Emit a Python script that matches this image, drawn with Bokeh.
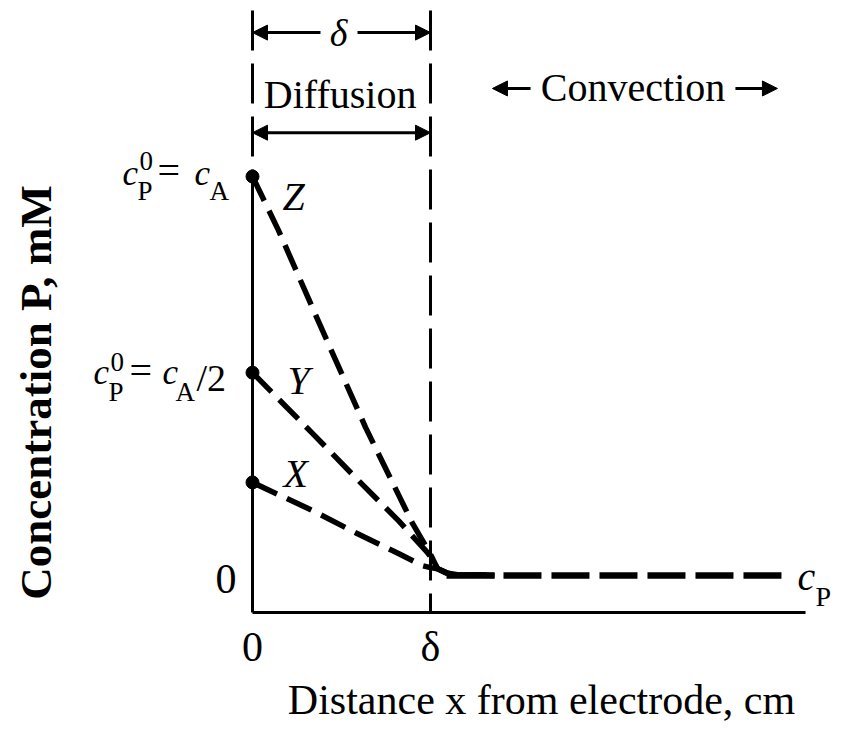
import math
from bokeh.plotting import figure
from bokeh.models import Label, Arrow, NormalHead, FixedTicker, Range1d, LinearAxis
from bokeh.embed import file_html
from bokeh.resources import INLINE

# ---------------- data (x in units of delta, c in units of c_A) ----------------
z_x = [0.0, 0.146, 0.393, 0.635, 0.899, 1.0]
z_c = [1.0, 0.866, 0.617, 0.376, 0.137, 0.06]
y_x = [0.0, 0.337, 0.579, 0.82, 0.972, 1.0]
y_c = [0.512, 0.361, 0.251, 0.144, 0.07, 0.055]
x_x = [0.0, 0.337, 0.579, 0.82, 0.955, 1.0]
x_c = [0.239, 0.169, 0.114, 0.062, 0.032, 0.027]
tail_x = [1.04, 1.09, 1.16, 1.36]          # merging into bulk
tail_c = [0.024, 0.014, 0.009, 0.0075]
bulk_c = 0.0075                            # bulk concentration c_P
bulk_x = [1.41, 2.983]
series_names = ["Z", "Y", "X"]
delta = 1.0
x_ticks = [0, 1]
x_tick_labels = ["0", "δ"]
y_ticks = [0]
y_tick_labels = ["0"]

FONT = "Liberation Serif"
X0, X1 = -1.41573, 3.32584
Y0, Y1 = -0.39552, 1.43781
AX_C = -0.0846          # level of the x axis
AX_XEND = 3.107         # end of the x axis

p = figure(width=844, height=737, output_backend="svg", toolbar_location=None,
           title=None, x_range=Range1d(X0, X1), y_range=Range1d(Y0, Y1),
           x_axis_location=None, y_axis_location=None,
           min_border=0, background_fill_color="white", border_fill_color="white")
p.outline_line_color = None
p.grid.visible = False

# axes (fixed inside the frame)
xa = LinearAxis(fixed_location=AX_C, ticker=FixedTicker(ticks=x_ticks),
                major_label_overrides={t: l for t, l in zip(x_ticks, x_tick_labels)},
                bounds=(0, AX_XEND), axis_line_width=3, axis_line_color="black",
                major_tick_line_color=None, minor_tick_line_color=None,
                major_label_text_font=FONT, major_label_text_font_size="42px",
                major_label_text_color="black", major_label_standoff=5)
p.add_layout(xa, "below")
ya = LinearAxis(fixed_location=0, ticker=FixedTicker(ticks=y_ticks),
                major_label_overrides={t: l for t, l in zip(y_ticks, y_tick_labels)},
                bounds=(AX_C, z_c[0]), axis_line_width=3, axis_line_color="black",
                major_tick_line_color=None, minor_tick_line_color=None,
                major_label_text_font=FONT, major_label_text_font_size="42px",
                major_label_text_color="black", major_label_standoff=10)
p.add_layout(ya, "left")

# boundary-layer dashed verticals
p.line([0, 0], [1.413, z_c[0]], line_color="black", line_width=3, line_dash="40 13")
p.line([delta, delta], [1.413, AX_C], line_color="black", line_width=3, line_dash="40 13")

# concentration profiles
for xs, cs in ((z_x, z_c), (y_x, y_c), (x_x, x_c)):
    p.line(xs + tail_x, cs + tail_c, line_color="black", line_width=5.5, line_dash="27 11")
p.line([tail_x[1], tail_x[-1]], [bulk_c, bulk_c], line_color="black", line_width=6.5)
p.line(bulk_x, [bulk_c, bulk_c], line_color="black", line_width=6.5, line_dash="38 10")

# surface points
dot_c = [z_c[0], y_c[0], x_c[0]]
p.scatter([0, 0, 0], dot_c, size=13, color="black")

MID = 0.3375  # middle of text box above the baseline, in em

def lab(x, y, text, size, style="normal", dx=0, dy=0, align="left"):
    """dy = offset of the text baseline from the anchor, in px (negative = below)."""
    p.add_layout(Label(x=x, y=y, text=text, text_font=FONT, text_font_size=f"{size}px",
                       text_font_style=style, text_color="black", x_offset=dx,
                       y_offset=dy + MID * size, text_align=align, text_baseline="middle"))

# curve names
for name, c, dx, dy in zip(series_names, dot_c, (30, 35, 31), (-34, -21, -5)):
    lab(0, c, name, 40, "italic", dx, dy)

# surface-concentration labels
lab(0, dot_c[0], "c", 35, "italic", -130, -9)
lab(0, dot_c[0], "0", 27, "normal", -113, 6)
lab(0, dot_c[0], "P", 27, "normal", -115, -24)
lab(0, dot_c[0], "=", 40, "normal", -95, -8)
lab(0, dot_c[0], "c", 35, "italic", -58, -9)
lab(0, dot_c[0], "A", 27, "normal", -43, -24)

lab(0, dot_c[1], "c", 35, "italic", -159, -12)
lab(0, dot_c[1], "0", 27, "normal", -142, 2)
lab(0, dot_c[1], "P", 27, "normal", -144, -28)
lab(0, dot_c[1], "=", 40, "normal", -123, -11)
lab(0, dot_c[1], "c", 35, "italic", -90, -12)
lab(0, dot_c[1], "A", 27, "normal", -77, -28)
lab(0, dot_c[1], "/2", 38, "normal", -56, -18)

# bulk label c_P
lab(bulk_x[-1], bulk_c, "c", 40, "italic", 14, -15)
lab(bulk_x[-1], bulk_c, "P", 28, "normal", 32, -30)

# axis titles
lab(1.6236, -0.3035, "Distance x from electrode, cm", 42, "normal", 0, -14, "center")
p.add_layout(Label(x=-1.219, y=0.4627, text="Concentration P, mM", text_font=FONT,
                   text_font_size="45px", text_font_style="bold", text_color="black",
                   text_align="center", text_baseline="middle", angle=math.pi / 2))

# top brackets
head = lambda: NormalHead(size=15, fill_color="black", line_color="black", line_width=1)
p.add_layout(Arrow(end=head(), x_start=0.382, y_start=1.358, x_end=0.0, y_end=1.358,
                   line_width=3, line_color="black"))
p.add_layout(Arrow(end=head(), x_start=0.59, y_start=1.358, x_end=delta, y_end=1.358,
                   line_width=3, line_color="black"))
lab(0.483, 1.326, "δ", 38, "italic", 0, 0, "center")
lab(0.492, 1.1716, "Diffusion", 40, "normal", 0, 0, "center")
p.add_layout(Arrow(start=head(), end=head(), x_start=0.0, y_start=1.109, x_end=delta,
                   y_end=1.109, line_width=3, line_color="black"))

# convection label
p.add_layout(Arrow(end=head(), x_start=1.562, y_start=1.219, x_end=1.348, y_end=1.219,
                   line_width=3, line_color="black"))
p.add_layout(Arrow(end=head(), x_start=2.713, y_start=1.219, x_end=2.949, y_end=1.219,
                   line_width=3, line_color="black"))
lab(2.138, 1.189, "Convection", 40, "normal", 0, 0, "center")

open("out.html", "w").write(file_html(p, INLINE))
